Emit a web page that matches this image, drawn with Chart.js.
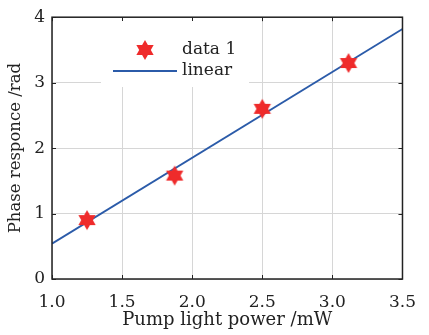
<!DOCTYPE html>
<html>
<head>
<script src="https://cdn.jsdelivr.net/npm/chart.js@4.4.0/dist/chart.umd.min.js"></script>
<style>
  html, body { margin: 0; padding: 0; background: #fff; }
  #wrap { width: 429px; height: 335px; position: relative; }
</style>
</head>
<body>
<div id="wrap"><canvas id="c"></canvas></div>
<script>
// measured points
const powerMw = [1.25, 1.875, 2.5, 3.115];
const phaseRad = [0.9, 1.58, 2.6, 3.3];
// fitted line, read at both ends of the axis
const fitX = [1.0, 3.5];
const fitY = [0.54, 3.82];
const xTicks = [1.0, 1.5, 2.0, 2.5, 3.0, 3.5];
const yTicks = [0, 1, 2, 3, 4];

const FONT = "'DejaVu Serif', 'Liberation Serif', serif";
const RED = '#ef2b2b';
const BLUE = '#2b5ba9';
const INK = '#222';

// six pointed star used as marker
function hexagram(r, color) {
  const cv = document.createElement('canvas');
  const s = Math.ceil(r * 2 + 2);
  cv.width = s; cv.height = s;
  const g = cv.getContext('2d');
  g.fillStyle = color;
  const c = s / 2;
  [0, Math.PI].forEach(rot => {
    g.beginPath();
    for (let i = 0; i < 3; i++) {
      const a = rot + i * 2 * Math.PI / 3;
      g.lineTo(c + r * Math.sin(a), c - r * Math.cos(a));
    }
    g.closePath();
    g.fill();
  });
  return cv;
}
const star = hexagram(10, RED);

// box + inward ticks + legend
const frame = {
  id: 'frame',
  afterDraw(chart) {
    const { ctx, chartArea: a, scales: { x, y } } = chart;
    ctx.save();
    ctx.strokeStyle = INK;
    ctx.lineWidth = 1;
    xTicks.forEach(v => {
      const px = Math.round(x.getPixelForValue(v)) + 0.5;
      ctx.beginPath();
      ctx.moveTo(px, a.bottom); ctx.lineTo(px, a.bottom - 4);
      ctx.moveTo(px, a.top); ctx.lineTo(px, a.top + 4);
      ctx.stroke();
    });
    yTicks.forEach(v => {
      const py = Math.round(y.getPixelForValue(v)) + 0.5;
      ctx.beginPath();
      ctx.moveTo(a.left, py); ctx.lineTo(a.left + 4, py);
      ctx.moveTo(a.right, py); ctx.lineTo(a.right - 4, py);
      ctx.stroke();
    });
    ctx.lineWidth = 1.5;
    ctx.strokeRect(a.left, a.top, a.right - a.left, a.bottom - a.top);

    // legend
    ctx.fillStyle = '#fff';
    ctx.fillRect(101, 21, 148, 66);
    ctx.drawImage(star, 145 - star.width / 2, 50 - star.height / 2);
    ctx.strokeStyle = BLUE;
    ctx.lineWidth = 1.8;
    ctx.beginPath();
    ctx.moveTo(113, 71); ctx.lineTo(177, 71);
    ctx.stroke();
    ctx.fillStyle = INK;
    ctx.font = '17px ' + FONT;
    ctx.textBaseline = 'middle';
    ctx.fillText(chart.data.datasets[0].label, 182, 50);
    ctx.fillText(chart.data.datasets[1].label, 182, 71);
    ctx.restore();
  }
};

new Chart(document.getElementById('c'), {
  type: 'scatter',
  data: {
    datasets: [
      {
        label: 'data 1',
        data: powerMw.map((v, i) => ({ x: v, y: phaseRad[i] })),
        pointStyle: star,
        pointRadius: 10,
        order: 0
      },
      {
        label: 'linear',
        type: 'line',
        data: fitX.map((v, i) => ({ x: v, y: fitY[i] })),
        borderColor: BLUE,
        borderWidth: 1.8,
        pointRadius: 0,
        fill: false,
        order: 1
      }
    ]
  },
  options: {
    responsive: true,
    maintainAspectRatio: false,
    animation: false,
    layout: { padding: { top: 15, right: 26, left: 0, bottom: 0 } },
    plugins: { legend: { display: false }, tooltip: { enabled: false } },
    scales: {
      x: {
        type: 'linear', min: 1, max: 3.5,
        afterBuildTicks: s => { s.ticks = xTicks.map(v => ({ value: v })); },
        afterFit: s => { s.height = 56; },
        grid: { color: '#d6d6d6', drawTicks: false },
        border: { display: false },
        ticks: { color: INK, padding: 13, font: { family: FONT, size: 17 }, callback: v => v.toFixed(1) },
        title: { display: true, text: 'Pump light power /mW', color: INK, padding: { top: 0, bottom: 4 }, font: { family: FONT, size: 18 } }
      },
      y: {
        min: 0, max: 4,
        afterBuildTicks: s => { s.ticks = yTicks.map(v => ({ value: v })); },
        afterFit: s => { s.width = 52; },
        grid: { color: '#d6d6d6', drawTicks: false },
        border: { display: false },
        ticks: { color: INK, padding: 7, font: { family: FONT, size: 17 } },
        title: { display: true, text: 'Phase responce /rad', color: INK, padding: { top: 6, bottom: 0 }, font: { family: FONT, size: 16.5 } }
      }
    }
  },
  plugins: [frame]
});
</script>
</body>
</html>
